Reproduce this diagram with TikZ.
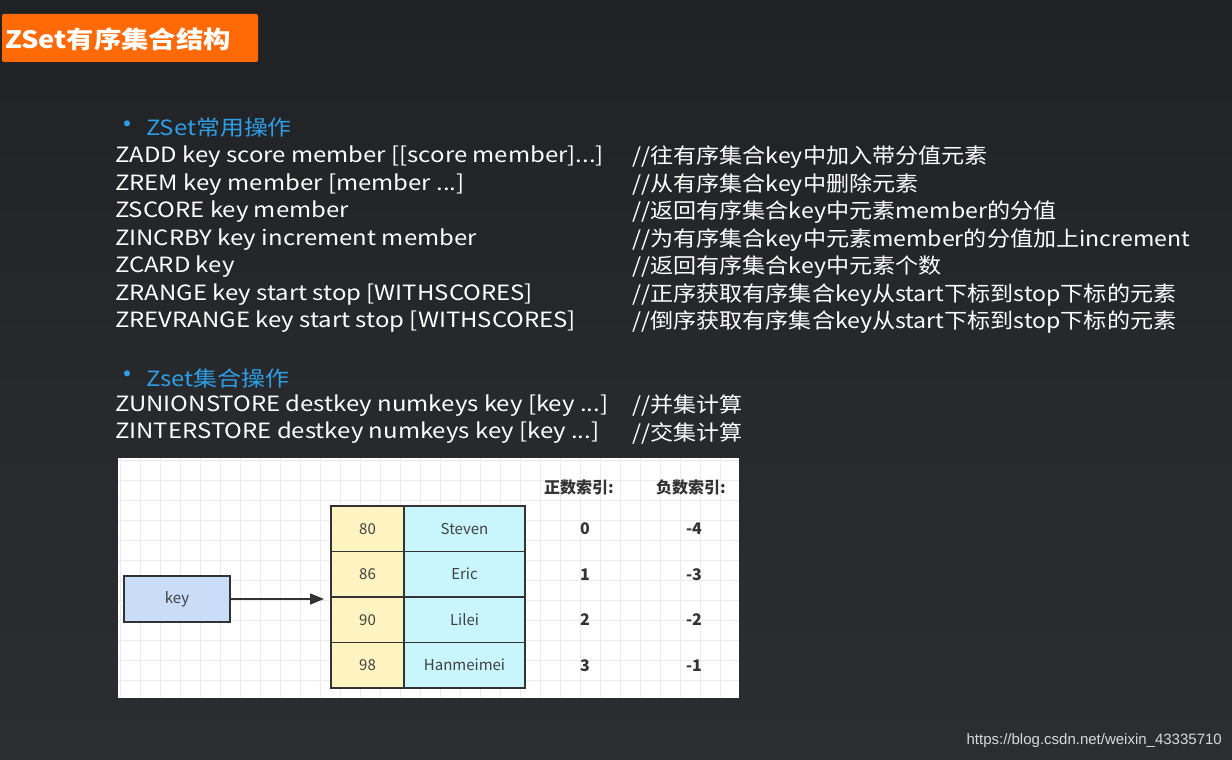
\documentclass[tikz,border=0pt]{standalone}
\usepackage{fontspec}
\setmainfont{Noto Sans CJK SC}
\newfontfamily\widefont[FakeStretch=1.14]{Noto Sans CJK SC}
\newfontfamily\cmtfont[FakeStretch=1.10]{Noto Sans CJK SC}
\newfontfamily\wmfont{Liberation Sans}
\usetikzlibrary{arrows.meta}
\definecolor{bgc}{HTML}{2B2D31}
\definecolor{hdr}{HTML}{2E9FE6}
\definecolor{org}{HTML}{FF6A06}
\definecolor{ylw}{HTML}{FDF4C2}
\definecolor{cyn}{HTML}{C8F6FC}
\definecolor{blu}{HTML}{C9DCF8}
\tikzset{
  cmd/.style={anchor=west,text=white,font=\widefont\fontsize{21}{24}\selectfont,inner sep=0pt},
  cmt/.style={anchor=west,text=white,font=\cmtfont\fontsize{21}{24}\selectfont,inner sep=0pt},
  sec/.style={anchor=west,text=hdr,font=\widefont\fontsize{21}{24}\selectfont,inner sep=0pt},
  cell/.style={draw=black!80,line width=1.4pt,minimum height=45.5pt,inner sep=0pt,text=black!75,font=\fontsize{15}{18}\selectfont},
  idx/.style={font=\bfseries\fontsize{16}{18}\selectfont,text=black!80,inner sep=0pt}
}
\begin{document}
\begin{tikzpicture}[x=1pt,y=-1pt]
\useasboundingbox (0,0) rectangle (1232,760);
\shade[top color=bgc!75!black,bottom color=bgc,middle color=bgc!90!black] (0,0) rectangle (1232,760);
\node[fill=org,rounded corners=2pt,minimum width=256pt,minimum height=48pt,inner sep=0pt] (title) at (130,38) {};
\node[anchor=west,text=white,font=\widefont\bfseries\fontsize{24}{28}\selectfont,inner sep=0pt] (tt) at (5,39) {ZSet有序集合结构};
% section 1
\node[sec,font=\fontsize{28}{28}\selectfont] (b1) at (113,128) {•};
\node[sec] (s1) at (146,128) {ZSet常用操作};
\foreach \y/\a/\b in {157/{ZADD key score member [[score member]...]}/{//往有序集合key中加入带分值元素},
 185/{ZREM key member [member ...]}/{//从有序集合key中删除元素},
 212/{ZSCORE key member}/{//返回有序集合key中元素member的分值},
 240/{ZINCRBY key increment member}/{//为有序集合key中元素member的分值加上increment},
 267/{ZCARD key}/{//返回有序集合key中元素个数},
 295/{ZRANGE key start stop [WITHSCORES]}/{//正序获取有序集合key从start下标到stop下标的元素},
 322/{ZREVRANGE key start stop [WITHSCORES]}/{//倒序获取有序集合key从start下标到stop下标的元素},
 406/{ZUNIONSTORE destkey numkeys key [key ...]}/{//并集计算},
 433/{ZINTERSTORE destkey numkeys key [key ...]}/{//交集计算}}
 {\node[cmd] (c\y) at (115,\y) {\a}; \node[cmt] (d\y) at (632,\y) {\b};}
\node[sec,font=\fontsize{28}{28}\selectfont] (b2) at (113,378) {•};
\node[sec] (s2) at (146,378) {Zset集合操作};
% diagram panel
\fill[white] (118,458) rectangle (739,698);
\begin{scope}
\clip (118,458) rectangle (739,698);
\draw[black!8,line width=0.6pt] (118,458) grid[step=20pt] (739,698);
\end{scope}
\foreach \i/\s/\n in {0/80/Steven,1/86/Eric,2/90/Lilei,3/98/Hanmeimei}{
  \node[cell,fill=ylw,minimum width=73pt] (sc\i) at (367.5,528.75+45.5*\i) {\s};
  \node[cell,fill=cyn,minimum width=121pt] (mb\i) at (464.5,528.75+45.5*\i) {\n};
}
\node[cell,fill=blu,minimum width=106pt,minimum height=46pt] (key) at (177,599) {key};
\coordinate (tip) at (324,599);
\draw[line width=1.5pt,black!80,-{Triangle[length=14pt,width=11pt]}] (key.east) -- (tip);
\node[idx] (h1) at (579,487) {正数索引:};
\node[idx] (h2) at (691,487) {负数索引:};
\foreach \i/\p/\q in {0/0/-4,1/1/-3,2/2/-2,3/3/-1}{
  \node[idx] (p\i) at (585,529+45.5*\i) {\p};
  \node[idx] (q\i) at (694,529+45.5*\i) {\q};
}
\node[anchor=east,text=white!85!black,font=\wmfont\fontsize{15}{16}\selectfont,inner sep=0pt] (wm) at (1222,741) {https://blog.csdn.net/weixin\_43335710};
\end{tikzpicture}
\end{document}
